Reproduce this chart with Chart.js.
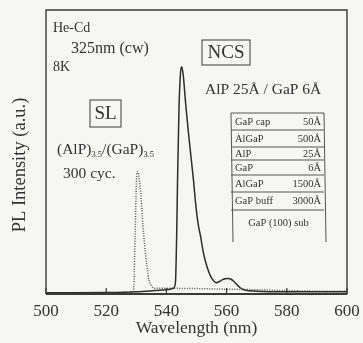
<!DOCTYPE html>
<html>
<head>
<meta charset="utf-8">
<script src="https://cdn.jsdelivr.net/npm/chart.js@4.4.1/dist/chart.umd.min.js"></script>
<style>
  html, body { margin: 0; padding: 0; background: #f6f6f3; }
  canvas { display: block; }
</style>
</head>
<body>
<canvas id="pl-chart" width="363" height="343"></canvas>
<script>
// NCS sample (AlP 25A / GaP 6A), solid line
const ncsWavelength = [500, 510, 520, 530, 536, 540, 542.3, 543.0, 543.4, 543.7, 544.2, 544.7, 545.1, 545.6, 546.4, 547.3, 548.1, 549.0, 549.7, 550.5, 551.4, 552.2, 553.1, 554.0, 554.8, 555.8, 556.6, 557.5, 558.5, 559.5, 560.5, 561.5, 562.5, 563.5, 564.5, 566, 570, 580, 590, 600];
const ncsIntensity = [0.004, 0.004, 0.005, 0.008, 0.012, 0.015, 0.02, 0.04, 0.2, 0.4, 0.66, 0.78, 0.80, 0.77, 0.67, 0.57, 0.49, 0.40, 0.32, 0.25, 0.20, 0.15, 0.11, 0.08, 0.06, 0.045, 0.040, 0.043, 0.050, 0.054, 0.055, 0.052, 0.043, 0.032, 0.022, 0.014, 0.010, 0.008, 0.008, 0.008];

// SL (AlP)3.5/(GaP)3.5 300 cyc., dotted line
const slWavelength = [528, 529.0, 529.2, 529.6, 530.0, 530.3, 530.6, 531.0, 531.6, 532.2, 532.8, 533.5, 534.2, 535.0, 536, 540, 550, 560, 570, 580, 590, 600];
const slIntensity = [0.006, 0.01, 0.03, 0.21, 0.38, 0.43, 0.43, 0.40, 0.34, 0.24, 0.17, 0.10, 0.05, 0.03, 0.02, 0.02, 0.019, 0.017, 0.015, 0.012, 0.01, 0.01];

const xTicks = [500, 520, 540, 560, 580, 600];

const serif = "'Liberation Serif', 'Times New Roman', serif";
const ink = "#333";

function toPoints(xs, ys) {
    return xs.map((x, i) => ({ x: x, y: ys[i] }));
}

function text(ctx, str, x, y, size, align) {
    ctx.font = size + "px " + serif;
    ctx.textAlign = align || "left";
    ctx.fillText(str, x, y);
    return ctx.measureText(str).width;
}

const frameAndNotes = {
    id: "frameAndNotes",
    beforeDraw(chart) {
        const ctx = chart.ctx;
        ctx.save();
        ctx.fillStyle = "#f6f6f3";
        ctx.fillRect(0, 0, chart.width, chart.height);
        ctx.restore();
    },
    afterDraw(chart) {
        const { ctx, chartArea: a, scales } = chart;
        ctx.save();
        ctx.strokeStyle = "#3a3a3a";
        ctx.fillStyle = ink;

        // frame
        ctx.lineWidth = 1.4;
        ctx.beginPath();
        ctx.moveTo(a.left, a.bottom);
        ctx.lineTo(a.left, a.top);
        ctx.lineTo(a.right, a.top);
        ctx.lineTo(a.right, a.bottom);
        ctx.stroke();
        ctx.lineWidth = 2;
        ctx.beginPath();
        ctx.moveTo(a.left, a.bottom);
        ctx.lineTo(a.right, a.bottom);
        ctx.stroke();

        // inward tick marks
        ctx.lineWidth = 1.2;
        scales.x.ticks.forEach((t) => {
            const px = scales.x.getPixelForValue(t.value);
            ctx.beginPath();
            ctx.moveTo(px, a.bottom);
            ctx.lineTo(px, a.bottom - 6);
            ctx.stroke();
        });

        // y title
        ctx.save();
        ctx.translate(20, 165);
        ctx.rotate(-Math.PI / 2);
        ctx.textBaseline = "middle";
        text(ctx, "PL Intensity (a.u.)", 0, 0, 18.5, "center");
        ctx.restore();

        ctx.textBaseline = "middle";
        // excitation notes
        text(ctx, "He-Cd", 53, 28, 14);
        text(ctx, "325nm (cw)", 71, 49, 16);
        text(ctx, "8K", 53, 67, 14);

        // SL label
        ctx.lineWidth = 1;
        ctx.strokeRect(90, 100, 31, 27);
        text(ctx, "SL", 105.5, 114, 19, "center");
        let x = 57;
        x += text(ctx, "(AlP)", x, 150, 15.5);
        x += text(ctx, "3.5", x, 155, 8.5);
        x += text(ctx, "/(GaP)", x, 150, 15.5);
        text(ctx, "3.5", x, 155, 8.5);
        text(ctx, "300 cyc.", 63, 174, 15.5);

        // NCS label
        ctx.strokeRect(202, 40, 48, 25);
        text(ctx, "NCS", 226, 53, 19, "center");
        text(ctx, "AlP 25Å / GaP 6Å", 205, 90, 15.5);

        // layer structure
        const rows = [["GaP cap", "50Å"], ["AlGaP", "500Å"], ["AlP", "25Å"], ["GaP", "6Å"], ["AlGaP", "1500Å"], ["GaP buff", "3000Å"]];
        const edges = [113, 130, 147, 160, 175, 192, 210];
        const tl = 231, tr = 324;
        ctx.lineWidth = 1;
        ctx.strokeStyle = "#555";
        edges.forEach((y) => {
            ctx.beginPath();
            ctx.moveTo(tl, y);
            ctx.lineTo(tr, y);
            ctx.stroke();
        });
        ctx.beginPath();
        ctx.moveTo(tl, 113);
        ctx.lineTo(tl + 2, 242);
        ctx.moveTo(tr, 113);
        ctx.lineTo(tr + 2, 242);
        ctx.stroke();
        rows.forEach((r, i) => {
            const cy = (edges[i] + edges[i + 1]) / 2 + 0.5;
            text(ctx, r[0], tl + 4, cy, 10.5);
            text(ctx, r[1], tr - 3, cy, 10.5, "right");
        });
        text(ctx, "GaP (100) sub", (tl + tr) / 2 + 1, 223, 10.5, "center");

        ctx.restore();
    },
};

new Chart(document.getElementById("pl-chart"), {
    type: "line",
    data: {
        datasets: [
            {
                label: "NCS",
                data: toPoints(ncsWavelength, ncsIntensity),
                borderColor: "#2e2e2e",
                borderWidth: 1.5,
                pointRadius: 0,
                cubicInterpolationMode: "monotone",
                fill: false,
            },
            {
                label: "SL",
                data: toPoints(slWavelength, slIntensity),
                borderColor: "#555",
                borderWidth: 1.5,
                borderDash: [1, 1.5],
                pointRadius: 0,
                cubicInterpolationMode: "monotone",
                fill: false,
            },
        ],
    },
    options: {
        responsive: false,
        animation: false,
        layout: {
            padding: { top: 10, right: 16, bottom: 0, left: 0 },
        },
        plugins: {
            legend: { display: false },
            tooltip: { enabled: false },
        },
        scales: {
            x: {
                type: "linear",
                min: 500,
                max: 600,
                afterBuildTicks: (scale) => {
                    scale.ticks = xTicks.map((v) => ({ value: v }));
                },
                afterFit: (scale) => {
                    scale.height = 49;
                    scale.paddingLeft = 0;
                    scale.paddingRight = 0;
                },
                grid: { display: false, drawTicks: false },
                border: { display: false },
                ticks: {
                    color: ink,
                    padding: 7,
                    maxRotation: 0,
                    font: { family: serif, size: 17 },
                },
                title: {
                    display: true,
                    text: "Wavelength (nm)",
                    color: ink,
                    padding: 4,
                    font: { family: serif, size: 17.5 },
                },
            },
            y: {
                min: 0,
                max: 1,
                afterFit: (scale) => {
                    scale.width = 46;
                },
                grid: { display: false, drawTicks: false },
                border: { display: false },
                ticks: { display: false },
            },
        },
    },
    plugins: [frameAndNotes],
});
</script>
</body>
</html>
